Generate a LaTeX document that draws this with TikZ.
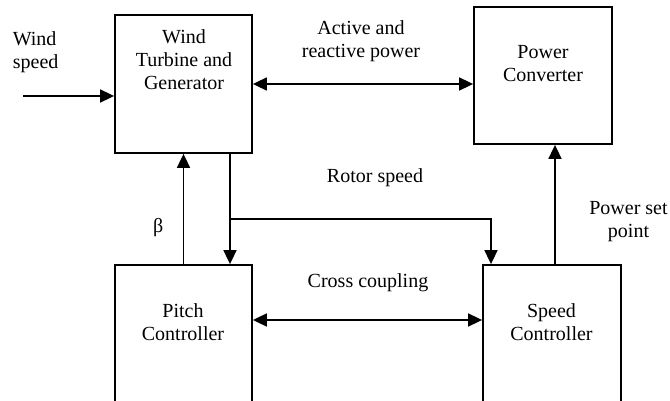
\documentclass[tikz,border=0pt]{standalone}
\usepackage{fontspec}
\setmainfont{LiberationSerif-Regular.ttf}
\usetikzlibrary{arrows.meta}
\begin{document}
\begin{tikzpicture}[x=1pt, y=-1pt, line width=1.7pt, font=\rmfamily\fontsize{20}{23}\selectfont,
    blk/.style={draw, rectangle, inner sep=0pt, line width=1.8pt},
    lbl/.style={align=center, inner sep=0pt},
    arr/.style={-{Triangle[length=14pt,width=13pt]}},
    arrs/.style={{Triangle[length=14pt,width=13pt]}-{Triangle[length=14pt,width=13pt]}}]
    \useasboundingbox (0,0) rectangle (670,401);
    \clip (0,0) rectangle (670,401);
    % blocks
    \node[blk, minimum width=137pt, minimum height=138pt] (wt) at (183.5,84) {};
    \node[blk, minimum width=138pt, minimum height=137pt] (pc) at (543,75.5) {};
    \node[blk, minimum width=137pt, minimum height=140pt] (pit) at (183.5,335) {};
    \node[blk, minimum width=138pt, minimum height=140pt] (sc) at (552,335) {};
    \node[lbl] (twt) at (184,60) {Wind\\Turbine and\\Generator};
    \node[lbl] (tpc) at (543,64) {Power\\Converter};
    \node[lbl] (tpit) at (183,322) {Pitch\\Controller};
    \node[lbl] (tsc) at (551.5,322) {Speed\\Controller};
    % signals
    \coordinate (ws) at (23,96);
    \node[lbl, align=left, anchor=west] (tws) at (12,52) {Wind\\speed};
    \draw[arr] (ws) -- (wt.west |- ws);
    \draw[arrs] (wt.east) -- (wt.east -| pc.west);
    \node[lbl] (tap) at (361,41) {Active and\\reactive power};
    \draw[arr] (pit.north) -- node[pos=0.33, left=16pt] (tb) {β} (wt.south);
    \coordinate (rs) at (230,219);
    \draw (rs |- wt.south) -- (rs);
    \draw[arr] (rs) -- (rs |- pit.north);
    \draw[arr] (rs) -| ([xshift=-61pt]sc.north);
    \node[lbl] (trs) at (375,178) {Rotor speed};
    \draw[arrs] ([yshift=15pt]pit.east) -- ([yshift=15pt]sc.west);
    \node[lbl] (tcc) at (368,283) {Cross coupling};
    \draw[arr] ([xshift=3pt]sc.north) -- ([xshift=3pt]sc.north |- pc.south);
    \node[lbl] (tps) at (628.5,221.5) {Power set\\point};
\end{tikzpicture}
\end{document}
